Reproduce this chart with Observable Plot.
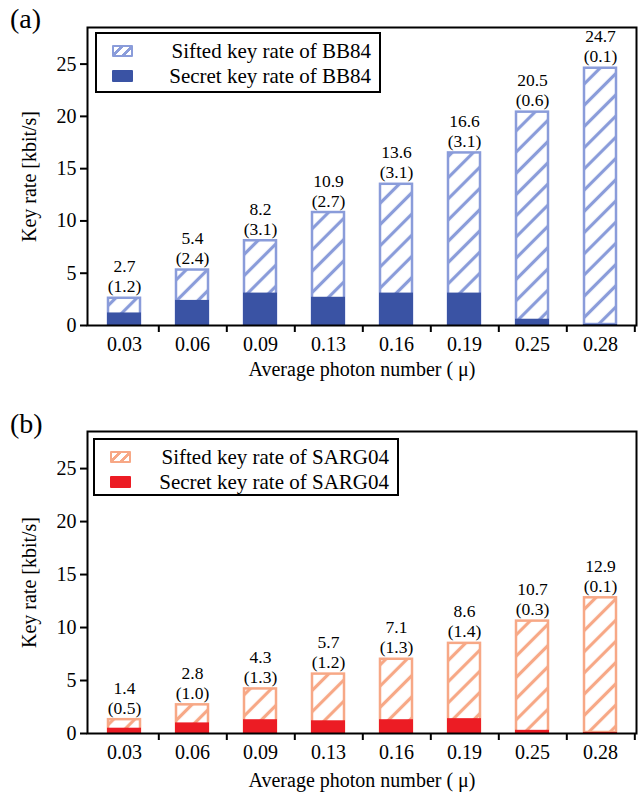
<!DOCTYPE html>
<html><head><meta charset="utf-8">
<script src="https://cdn.jsdelivr.net/npm/d3@7"></script>
<script src="https://cdn.jsdelivr.net/npm/@observablehq/plot@0.6"></script>
<style>
body{margin:0;background:#fff;font-family:'Liberation Serif',serif;color:#000;}
.panel{position:relative;width:644px;}
.panel svg, .panel svg text{font-family:'Liberation Serif',serif !important;}
.tag{position:absolute;left:10px;font-size:28px;line-height:30px;}
.legend{position:absolute;border:2px solid #000;background:#fff;box-sizing:border-box;font-size:21px;}
.row{position:absolute;left:0;right:0;height:24px;line-height:24px;}
.row .sw{position:absolute;left:15px;top:6px;width:21px;height:12px;box-sizing:border-box;border-radius:1px;}
.row .lab{position:absolute;right:8px;top:0;white-space:nowrap;}
</style>
</head><body>
<div id="root"></div>
<script>
const photon = ["0.03","0.06","0.09","0.13","0.16","0.19","0.25","0.28"];
const siftedBB84 = [2.7, 5.4, 8.2, 10.9, 13.6, 16.6, 20.5, 24.7];
const secretBB84 = [1.2, 2.4, 3.1, 2.7, 3.1, 3.1, 0.6, 0.1];
const siftedSARG04 = [1.4, 2.8, 4.3, 5.7, 7.1, 8.6, 10.7, 12.9];
const secretSARG04 = [0.5, 1.0, 1.3, 1.2, 1.3, 1.4, 0.3, 0.1];
const yTicks = [0, 5, 10, 15, 20, 25];

const W = 644, ML = 87, MR = 8;
const step = (W - ML - MR) / photon.length;

function panel({tag, sifted, secret, light, dark, siftName, secName, height, mt, mb, id, legendTop, legendLeft, legendW, legendH, xLabelOffset}) {
  const data = photon.map((mu, i) => ({mu, sifted: sifted[i], secret: secret[i]}));
  const div = document.createElement("div");
  div.className = "panel";
  div.style.height = height + "px";
  const svg = Plot.plot({
    width: W, height, marginLeft: ML, marginRight: MR, marginTop: mt, marginBottom: mb,
    style: {fontFamily: "'Liberation Serif', serif", fontSize: "20px", color: "#000", background: "#fff"},
    x: {domain: photon, paddingInner: 0.5, paddingOuter: 0.25},
    y: {domain: [0, 28.5]},
    marks: [
      Plot.barY(data, {x: "mu", y: "sifted", fill: `url(#${id})`, stroke: light, strokeWidth: 2.5, inset: 1}),
      Plot.barY(data, {x: "mu", y: "secret", fill: dark}),
      Plot.text(data, {x: "mu", y: "sifted", text: d => `${d.sifted.toFixed(1)}\n(${d.secret.toFixed(1)})`,
        lineAnchor: "bottom", dy: -5, fontSize: 17.5, lineHeight: 1.14, fill: "#000"}),
      Plot.axisY({ticks: yTicks, tickSize: 7, tickPadding: 4, strokeWidth: 2, fontSize: 20,
        label: "Key rate [kbit/s]", labelAnchor: "center", labelOffset: 66, labelArrow: "none"}),
      Plot.axisX({tickSize: 0, tickPadding: 11, fontSize: 20,
        label: "Average photon number ( \u03bc)", labelAnchor: "center", labelOffset: xLabelOffset, labelArrow: "none"}),
      Plot.axisX({tickSize: 7, strokeWidth: 2, dx: step / 2, tickFormat: () => "", label: null}),
      Plot.frame({stroke: "#000", strokeWidth: 2})
    ]
  });
  const ns = "http://www.w3.org/2000/svg";
  const defs = document.createElementNS(ns, "defs");
  defs.innerHTML = `<pattern id="${id}" patternUnits="userSpaceOnUse" width="15" height="15" patternTransform="rotate(45)"><rect width="15" height="15" fill="white"/><line x1="7.5" y1="0" x2="7.5" y2="15" stroke="${light}" stroke-width="3.2"/></pattern>`;
  svg.prepend(defs);
  div.appendChild(svg);

  const t = document.createElement("div");
  t.className = "tag"; t.textContent = tag;
  t.style.top = (tag === "(a)" ? 4 : 11) + "px";
  div.appendChild(t);

  const lg = document.createElement("div");
  lg.className = "legend";
  Object.assign(lg.style, {left: legendLeft + "px", top: legendTop + "px", width: legendW + "px", height: legendH + "px"});
  lg.innerHTML = `
    <div class="row" style="top:5px"><div class="sw" style="border:2px solid ${light};background:repeating-linear-gradient(-45deg,#fff 0 4px,${light} 4px 7px)"></div><div class="lab">${siftName}</div></div>
    <div class="row" style="top:30px"><div class="sw" style="background:${dark}"></div><div class="lab">${secName}</div></div>`;
  div.appendChild(lg);
  return div;
}

const root = document.getElementById("root");
root.appendChild(panel({tag: "(a)", sifted: siftedBB84, secret: secretBB84, light: "#8a9cda", dark: "#3a53a4",
  siftName: "Sifted key rate of BB84", secName: "Secret key rate of BB84",
  height: 398, mt: 27, mb: 73, id: "hatchA", legendTop: 32, legendLeft: 95, legendW: 286, legendH: 61, xLabelOffset: 50}));
root.appendChild(panel({tag: "(b)", sifted: siftedSARG04, secret: secretSARG04, light: "#f7a886", dark: "#ec1c24",
  siftName: "Sifted key rate of SARG04", secName: "Secret key rate of SARG04",
  height: 400, mt: 33, mb: 65, id: "hatchB", legendTop: 40, legendLeft: 93, legendW: 306, legendH: 58, xLabelOffset: 53}));
</script>
</body></html>
